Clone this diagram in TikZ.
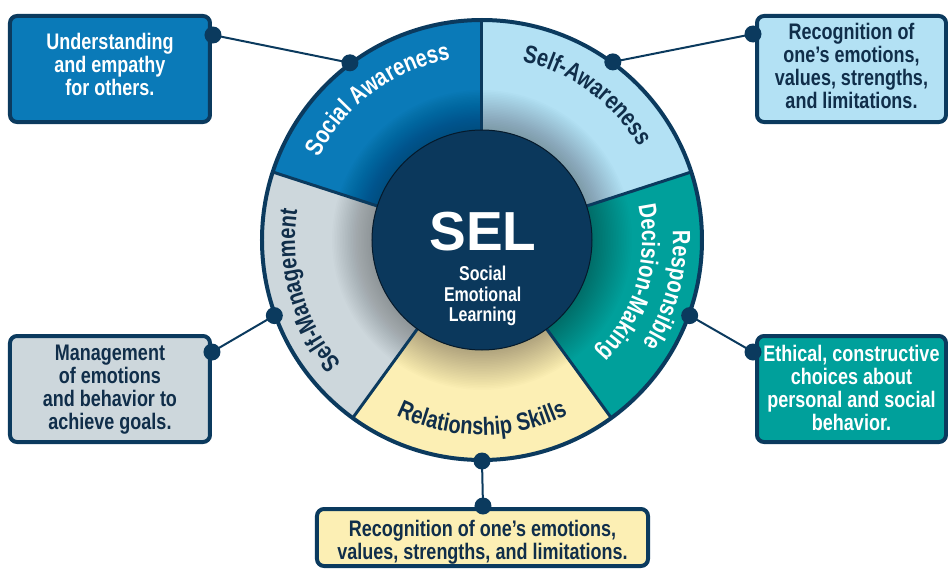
\documentclass[tikz,border=0pt]{standalone}
\usepackage{fontspec}
\setmainfont{Liberation Sans}[FakeStretch=0.80]
\newfontfamily\selfont{Liberation Sans}
\usetikzlibrary{decorations.text}
\definecolor{navy}{HTML}{0B3A5E}
\definecolor{ink}{HTML}{102E4A}
\definecolor{socblue}{HTML}{0A7AB8}
\definecolor{selfblue}{HTML}{B3E1F4}
\definecolor{cteal}{HTML}{00A09B}
\definecolor{cyellow}{HTML}{FCEFB4}
\definecolor{cgrey}{HTML}{CDD7DC}
\definecolor{ccenter}{HTML}{0B385C}
\definecolor{cedge}{HTML}{05192A}
\newcommand\seglab{\bfseries\fontsize{25}{25}\selectfont}
\tikzset{
  box/.style={draw=navy, line width=4pt, rounded corners=7pt, inner sep=0pt},
  boxtext/.style={align=center, font=\bfseries\fontsize{22.5}{23}\selectfont, inner sep=0pt},
  subtext/.style={font=\bfseries\fontsize{20}{20}\selectfont, text=white, anchor=base, inner sep=0pt},
  dot/.style={circle, fill=navy, minimum size=17pt, inner sep=0pt},
  conn/.style={draw=navy, line width=2pt},
  segline/.style={draw=navy, line width=3pt},
  arctext/.style={decorate, decoration={text along path, text align=center, text color=#1}},
}
\begin{document}
\begin{tikzpicture}[x=1pt, y=1pt]
\useasboundingbox (-482,-331) rectangle (466,240);
% segments
\fill[socblue] (0,0) -- (90:221) arc[start angle=90, end angle=162, radius=221] -- cycle;
\fill[selfblue] (0,0) -- (18:221) arc[start angle=18, end angle=90, radius=221] -- cycle;
\fill[cteal] (0,0) -- (-54:221) arc[start angle=-54, end angle=18, radius=221] -- cycle;
\fill[cyellow] (0,0) -- (-126:221) arc[start angle=-126, end angle=-54, radius=221] -- cycle;
\fill[cgrey] (0,0) -- (162:221) arc[start angle=162, end angle=234, radius=221] -- cycle;
% shadow around centre
\foreach \i in {1,...,25} \fill[black, opacity=0.011] (0,0) circle ({110+1.6*\i});
% boundaries
\foreach \a in {90,18,-54,-126,162} \draw[segline] (\a:100) -- (\a:221);
\draw[navy, line width=4pt] (0,0) circle (220);
% centre
\draw[fill=ccenter, draw=cedge, line width=1pt] (0,0) circle (110);
\node[font=\selfont\bfseries\fontsize{55}{55}\selectfont, text=white, anchor=base, inner sep=0pt] (sel) at (1,-10) {SEL};
\node[subtext] (sub1) at (0.7,-40) {Social};
\node[subtext] (sub2) at (0.7,-61) {Emotional};
\node[subtext] (sub3) at (0.7,-81.5) {Learning};
% segment labels
\path[arctext=white, decoration={text={|\seglab|Social Awareness}}] (196.5:183) arc[start angle=196.5, end angle=56.5, radius=183];
\path[arctext=ink, decoration={text={|\seglab|Self-Awareness}}] (124:183) arc[start angle=124, end angle=-16, radius=183];
\path[arctext=white, decoration={text={|\seglab|Responsible}}] (50:191) arc[start angle=50, end angle=-80, radius=191];
\path[arctext=white, decoration={text={|\seglab|Decision-Making}}] (49:160) arc[start angle=49, end angle=-81, radius=160];
\path[arctext=ink, decoration={text={|\seglab|Relationship Skills}}] (-160:195) arc[start angle=-160, end angle=-20, radius=195];
\path[arctext=ink, decoration={text={|\seglab|Self-Management}}] (266:187) arc[start angle=266, end angle=126, radius=187];
% boxes
\node[box, fill=socblue, minimum width=200pt, minimum height=106pt] (b1) at (-372,171) {};
\node[box, fill=selfblue, minimum width=189pt, minimum height=106pt] (b2) at (369.5,171) {};
\node[box, fill=cgrey, minimum width=200pt, minimum height=106pt] (b3) at (-372,-149) {};
\node[box, fill=cteal, minimum width=189pt, minimum height=106pt] (b4) at (369.5,-149) {};
\node[box, fill=cyellow, minimum width=331pt, minimum height=57pt] (b5) at (0.5,-297.5) {};
\node[boxtext, text=white] (t1) at (-372,175.7) {Understanding\\and empathy\\for others.};
\node[boxtext, text=ink] (t2) at (369.5,174.3) {Recognition of\\one’s emotions,\\values, strengths,\\and limitations.};
\node[boxtext, text=ink] (t3) at (-372,-149.9) {Management\\of emotions\\and behavior to\\achieve goals.};
\node[boxtext, text=white] (t4) at (369.5,-147.7) {Ethical, constructive\\choices about\\personal and social\\behavior.};
\node[boxtext, text=ink] (t5) at (0.5,-302) {Recognition of one’s emotions,\\values, strengths, and limitations.};
% dots
\node[dot] (w1) at (126.7:221) {};
\node[dot] (w2) at (53.7:221) {};
\node[dot] (w3) at (200:221) {};
\node[dot] (w4) at (-20:221) {};
\node[dot] (w5) at (-90:221) {};
\node[dot] (d1) at (-269,205) {};
\node[dot] (d2) at (271,206) {};
\node[dot] (d3) at (-270,-112) {};
\node[dot] (d4) at (271,-112) {};
\node[dot] (d5) at (1,-266) {};
% connectors
\draw[conn] (d1.center) -- (w1.center);
\draw[conn] (d2.center) -- (w2.center);
\draw[conn] (d3.center) -- (w3.center);
\draw[conn] (d4.center) -- (w4.center);
\draw[conn] (d5.center) -- (w5.center);
\end{tikzpicture}
\end{document}
